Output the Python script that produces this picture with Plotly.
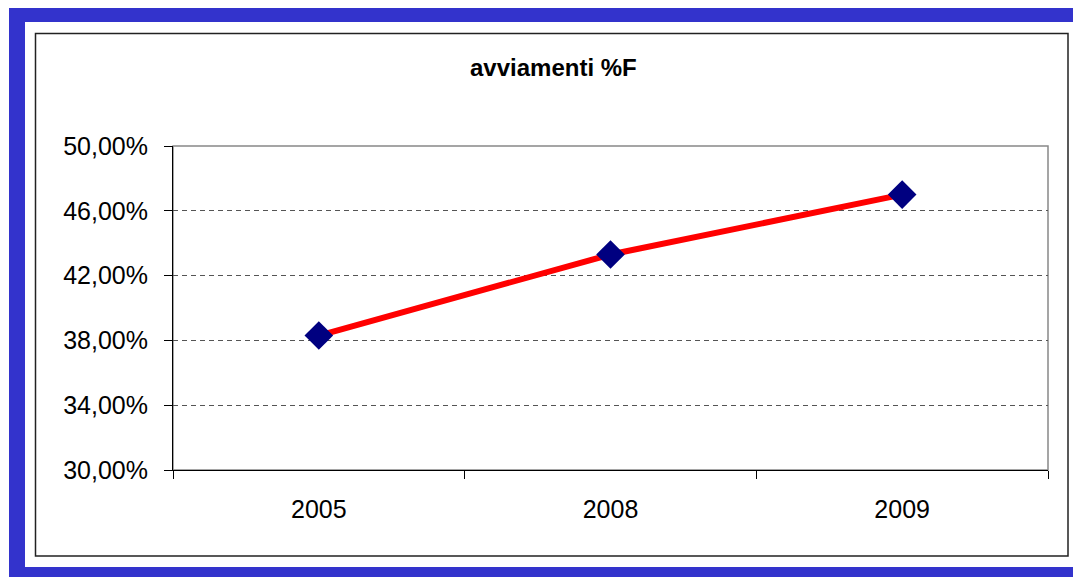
import plotly.graph_objects as go

years = ["2005", "2008", "2009"]
values = [0.383, 0.433, 0.470]
title_text = "avviamenti %F"

OFF = 8  # default page body margin
W, H = 1081 - OFF, 577 - OFF
L, R, T, B = 173 - OFF, 1048 - OFF, 146 - OFF, 470 - OFF


def px(x):
    return (x - OFF - L) / (R - L)


def py(y):
    return (B - (y - OFF)) / (B - T)


fig = go.Figure()
fig.add_trace(go.Scatter(
    x=years, y=values, mode="lines+markers",
    line=dict(color="#FF0000", width=6),
    marker=dict(symbol="diamond", size=22, color="#000080",
                line=dict(width=0)),
    cliponaxis=False, showlegend=False,
))

font = "Liberation Sans, Arial, sans-serif"
blue = "#3333CC"
shapes = [
    # blue frame
    dict(type="rect", xref="paper", yref="paper", x0=px(9), x1=px(25), y0=py(0), y1=py(590),
         fillcolor=blue, line=dict(width=0), layer="above"),
    dict(type="rect", xref="paper", yref="paper", x0=px(9), x1=px(1090), y0=py(0), y1=py(22),
         fillcolor=blue, line=dict(width=0), layer="above"),
    dict(type="rect", xref="paper", yref="paper", x0=px(9), x1=px(1090), y0=py(567), y1=py(590),
         fillcolor=blue, line=dict(width=0), layer="above"),
    # chart area border
    dict(type="rect", xref="paper", yref="paper", x0=px(35.5), x1=px(1068), y0=py(33.5), y1=py(556),
         line=dict(color="#222222", width=1.5), layer="above"),
    # plot area border (top/right gray)
    dict(type="rect", xref="paper", yref="paper", x0=0, x1=1, y0=0, y1=1,
         line=dict(color="#888888", width=1.5), layer="below"),
]

fig.update_layout(
    width=W, height=H,
    margin=dict(l=L, r=W - R, t=T, b=H - B),
    paper_bgcolor="white", plot_bgcolor="white",
    separators=",.",
    shapes=shapes,
    annotations=[dict(text="<b>" + title_text + "</b>", xref="paper", yref="paper",
                      x=px(553), y=py(67), showarrow=False,
                      font=dict(family=font, size=24, color="black"),
                      xanchor="center", yanchor="middle")],
    xaxis=dict(type="category", tickson="boundaries", ticks="outside", ticklen=8,
               tickcolor="black", showline=True, linecolor="black", linewidth=1,
               showgrid=False, tickfont=dict(family=font, size=25, color="black"),
               range=[-0.5, 2.5], ticklabelstandoff=17),
    yaxis=dict(range=[0.30, 0.50], dtick=0.04, tick0=0.30, tickformat=".2%",
               ticks="outside", ticklen=8, tickcolor="black",
               showline=True, linecolor="black", linewidth=1,
               showgrid=True, gridcolor="#555555", griddash="5px,4px", gridwidth=1,
               zeroline=False,
               tickfont=dict(family=font, size=25, color="black"),
               ticklabelstandoff=11),
)

fig.write_html("out.html")
